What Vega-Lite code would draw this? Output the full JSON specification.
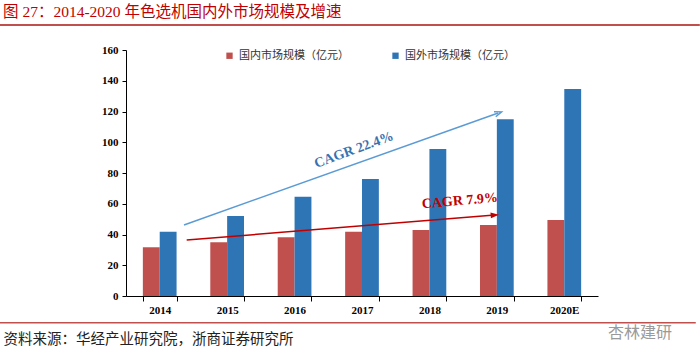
{
  "$schema": "https://vega.github.io/schema/vega-lite/v6.json",
  "width": 472,
  "height": 246,
  "autosize": {"type": "none"},
  "padding": {"left": 126, "top": 50, "right": 102, "bottom": 68},
  "background": "white",
  "config": {
    "view": {"stroke": null},
    "font": "Liberation Serif",
    "axisY": {
      "grid": false,
      "labelFont": "Liberation Serif",
      "labelFontWeight": "bold",
      "labelFontSize": 11,
      "labelColor": "#000",
      "labelPadding": 4,
      "labelOverlap": false,
      "tickSize": 4,
      "tickColor": "#000",
      "domainColor": "#000"
    }
  },
  "title": {
    "text": "图 27：2014-2020 年色选机国内外市场规模及增速",
    "anchor": "start",
    "frame": "group",
    "dx": -123,
    "offset": 3,
    "fontSize": 15.5,
    "fontWeight": "normal",
    "color": "#C00000",
    "font": "Liberation Serif, Noto Sans CJK SC"
  },
  "datasets": {
    "market": [
      {"year": "2014", "series": "国内市场规模（亿元）", "value": 31.7},
      {"year": "2014", "series": "国外市场规模（亿元）", "value": 41.8},
      {"year": "2015", "series": "国内市场规模（亿元）", "value": 34.9},
      {"year": "2015", "series": "国外市场规模（亿元）", "value": 52},
      {"year": "2016", "series": "国内市场规模（亿元）", "value": 38.2},
      {"year": "2016", "series": "国外市场规模（亿元）", "value": 64.6},
      {"year": "2017", "series": "国内市场规模（亿元）", "value": 41.8},
      {"year": "2017", "series": "国外市场规模（亿元）", "value": 76.1},
      {"year": "2018", "series": "国内市场规模（亿元）", "value": 42.9},
      {"year": "2018", "series": "国外市场规模（亿元）", "value": 95.6},
      {"year": "2019", "series": "国内市场规模（亿元）", "value": 46.2},
      {"year": "2019", "series": "国外市场规模（亿元）", "value": 114.9},
      {"year": "2020E", "series": "国内市场规模（亿元）", "value": 49.4},
      {"year": "2020E", "series": "国外市场规模（亿元）", "value": 134.6}
    ],
    "blueArrow": [{"x": 0.36, "y": 46.2, "x2": 5.02, "y2": 119.0}],
    "redArrow": [{"x": 0.4, "y": 36.4, "x2": 4.97, "y2": 52.7}],
    "blueLabel": [{"x": 2.88, "y": 95.0, "label": "CAGR 22.4%"}],
    "redLabel": [{"x": 4.45, "y": 61.8, "label": "CAGR 7.9%"}],
    "watermark": [{"label": "杏林建研"}]
  },
  "layer": [
    {
      "data": {"name": "market"},
      "mark": {"type": "bar"},
      "encoding": {
        "x": {
          "field": "year",
          "type": "nominal",
          "sort": null,
          "scale": {"paddingInner": 0.5, "paddingOuter": 0.25},
          "axis": {
            "labelAngle": 0,
            "labelFont": "Liberation Serif",
            "labelFontWeight": "bold",
            "labelFontSize": 11,
            "labelColor": "#000",
            "labelPadding": 3,
            "tickBand": "extent",
            "tickSize": 5,
            "tickColor": "#000",
            "domainColor": "#000",
            "title": "资料来源：华经产业研究院，浙商证券研究所",
            "titleX": -123,
            "titleY": 43,
            "titleAlign": "left",
            "titleAnchor": "start",
            "titleBaseline": "middle",
            "titleFont": "Noto Sans CJK SC",
            "titleFontSize": 14.5,
            "titleFontWeight": "normal",
            "titleColor": "#222"
          }
        },
        "xOffset": {
          "field": "series",
          "type": "nominal",
          "sort": ["国内市场规模（亿元）", "国外市场规模（亿元）"]
        },
        "y": {
          "field": "value",
          "type": "quantitative",
          "scale": {"domain": [0, 160], "nice": false},
          "axis": {"values": [0, 20, 40, 60, 80, 100, 120, 140, 160], "title": null}
        },
        "color": {
          "field": "series",
          "type": "nominal",
          "sort": ["国内市场规模（亿元）", "国外市场规模（亿元）"],
          "scale": {"range": ["#C0504D", "#2E75B6"]},
          "legend": {
            "orient": "none",
            "legendX": 98,
            "legendY": 0,
            "direction": "horizontal",
            "title": null,
            "symbolType": "square",
            "symbolSize": 40,
            "symbolStrokeWidth": 0,
            "labelFont": "Noto Sans CJK SC",
            "labelFontSize": 11,
            "labelColor": "#333",
            "columnPadding": 41
          }
        }
      }
    },
    {
      "layer": [
        {
          "data": {"values": [{}]},
          "mark": {"type": "rule", "clip": false, "color": "#C0504D", "strokeWidth": 2},
          "encoding": {
            "x": {
              "datum": -2.37,
              "type": "quantitative",
              "scale": {"domain": [-0.5, 6.5], "nice": false, "zero": false},
              "axis": null
            },
            "x2": {"datum": 8.01},
            "y": {"datum": 176.3, "type": "quantitative", "axis": {"values": [0, 20, 40, 60, 80, 100, 120, 140, 160], "title": null}}
          }
        },
        {
          "data": {"values": [{}]},
          "mark": {"type": "rule", "clip": false, "color": "#C0504D", "strokeWidth": 1.5},
          "encoding": {
            "x": {"datum": -2.37, "type": "quantitative", "axis": null},
            "x2": {"datum": 7.95},
            "y": {"datum": -17.4, "type": "quantitative", "axis": {"values": [0, 20, 40, 60, 80, 100, 120, 140, 160], "title": null}}
          }
        },
        {
          "data": {"name": "watermark"},
          "mark": {
            "type": "text",
            "clip": false,
            "font": "Noto Sans CJK SC",
            "fontSize": 16,
            "color": "#9a9a9a",
            "align": "left",
            "baseline": "middle"
          },
          "encoding": {
            "x": {"datum": 6.65, "type": "quantitative", "axis": null},
            "y": {"datum": -24.1, "type": "quantitative", "axis": {"values": [0, 20, 40, 60, 80, 100, 120, 140, 160], "title": null}},
            "text": {"field": "label"}
          }
        },
        {
          "data": {"name": "blueArrow"},
          "mark": {"type": "rule", "color": "#5B9BD5", "strokeWidth": 1.5, "clip": false},
          "encoding": {
            "x": {"field": "x", "type": "quantitative", "axis": null},
            "x2": {"field": "x2"},
            "y": {"field": "y", "type": "quantitative", "axis": {"values": [0, 20, 40, 60, 80, 100, 120, 140, 160], "title": null}},
            "y2": {"field": "y2"}
          }
        },
        {
          "data": {"name": "blueArrow"},
          "mark": {
            "type": "point",
            "shape": "M-1,-0.75L1,0L-1,0.75",
            "filled": false,
            "stroke": "#5B9BD5",
            "strokeWidth": 1.5,
            "size": 50,
            "angle": 340.4,
            "opacity": 1,
            "clip": false
          },
          "encoding": {
            "x": {"field": "x2", "type": "quantitative", "axis": null},
            "y": {"field": "y2", "type": "quantitative", "axis": {"values": [0, 20, 40, 60, 80, 100, 120, 140, 160], "title": null}}
          }
        },
        {
          "data": {"name": "redArrow"},
          "mark": {"type": "rule", "color": "#C00000", "strokeWidth": 1.5, "clip": false},
          "encoding": {
            "x": {"field": "x", "type": "quantitative", "axis": null},
            "x2": {"field": "x2"},
            "y": {"field": "y", "type": "quantitative", "axis": {"values": [0, 20, 40, 60, 80, 100, 120, 140, 160], "title": null}},
            "y2": {"field": "y2"}
          }
        },
        {
          "data": {"name": "redArrow"},
          "mark": {
            "type": "point",
            "shape": "M-1,-0.7L1,0L-1,0.7Z",
            "filled": true,
            "fill": "#C00000",
            "strokeWidth": 0,
            "size": 70,
            "angle": 355.4,
            "opacity": 1,
            "clip": false
          },
          "encoding": {
            "x": {"field": "x2", "type": "quantitative", "axis": null},
            "y": {"field": "y2", "type": "quantitative", "axis": {"values": [0, 20, 40, 60, 80, 100, 120, 140, 160], "title": null}}
          }
        },
        {
          "data": {"name": "blueLabel"},
          "mark": {
            "type": "text",
            "font": "Liberation Serif",
            "fontWeight": "bold",
            "fontSize": 14,
            "angle": 340,
            "color": "#3A72AE",
            "align": "center",
            "baseline": "middle"
          },
          "encoding": {
            "x": {"field": "x", "type": "quantitative", "axis": null},
            "y": {"field": "y", "type": "quantitative", "axis": {"values": [0, 20, 40, 60, 80, 100, 120, 140, 160], "title": null}},
            "text": {"field": "label"}
          }
        },
        {
          "data": {"name": "redLabel"},
          "mark": {
            "type": "text",
            "font": "Liberation Serif",
            "fontWeight": "bold",
            "fontSize": 14,
            "angle": 355,
            "color": "#C00000",
            "align": "center",
            "baseline": "middle"
          },
          "encoding": {
            "x": {"field": "x", "type": "quantitative", "axis": null},
            "y": {"field": "y", "type": "quantitative", "axis": {"values": [0, 20, 40, 60, 80, 100, 120, 140, 160], "title": null}},
            "text": {"field": "label"}
          }
        }
      ]
    }
  ],
  "resolve": {"scale": {"x": "independent"}}
}
